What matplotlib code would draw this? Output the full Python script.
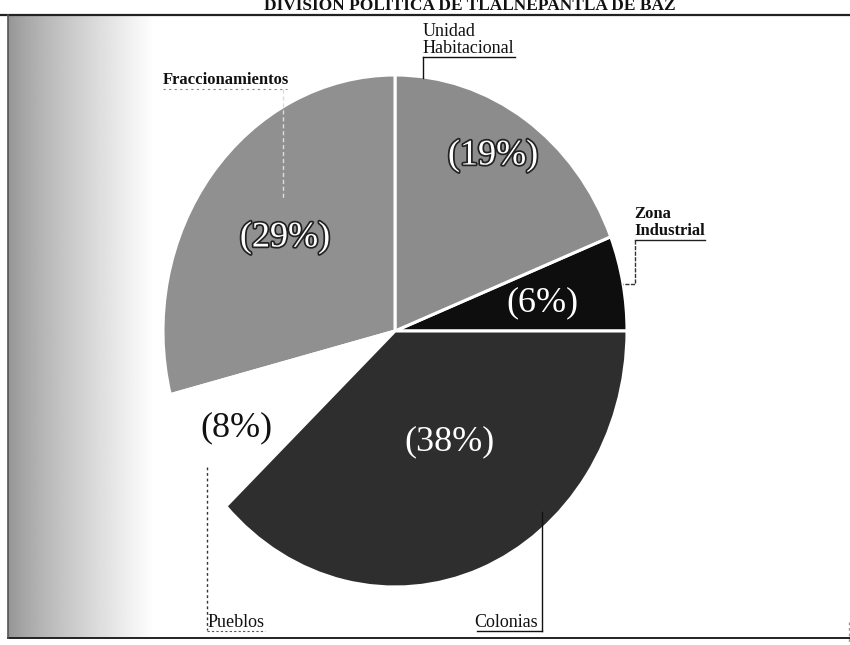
import matplotlib.pyplot as plt
import matplotlib.patheffects as pe
import numpy as np

# slices counterclockwise from 3 o'clock
categories = ["Zona\nIndustrial", "Unidad\nHabitacional", "Fraccionamientos", "Pueblos", "Colonias"]
values = [6, 19, 29, 8, 38]
colors = ["#0e0e0e", "#8c8c8c", "#909090", "#ffffff", "#2e2e2e"]
title = "DIVISIÓN POLÍTICA DE TLALNEPANTLA DE BAZ"

W, H = 850, 645
serif = "Liberation Serif"

fig = plt.figure(figsize=(W / 100, H / 100), dpi=100)

# background layer in pixel coordinates
bg = fig.add_axes([0, 0, 1, 1], zorder=0)
bg.set_xlim(0, W)
bg.set_ylim(H, 0)
bg.axis("off")

# scanned grey band on the left
grad = np.linspace(0.0, 1.0, 200).reshape(1, -1) ** 0.8 * 0.42 + 0.58
bg.imshow(grad, extent=[8, 155, 638, 15], cmap="gray", vmin=0, vmax=1, aspect="auto")

# frame lines
bg.plot([0, W], [15, 15], color="#222222", lw=1.6)
bg.plot([8, W], [638, 638], color="#222222", lw=1.4)
bg.plot([8, 8], [15, 638], color="#555555", lw=1.2)
bg.plot([849, 849], [622, 642], color="#999999", lw=1, ls=(0, (2, 2)))

bg.text(470, 10.5, title, ha="center", va="baseline", fontsize=12.5,
        fontweight="bold", family=serif, color="#111111")

# pie drawn in its own axes (slightly taller than wide, as in the scan)
cx, cy, rx, ry = 395, 331, 232, 256
pax = fig.add_axes([(cx - rx) / W, (H - cy - ry) / H, 2 * rx / W, 2 * ry / H], zorder=1)
pax.pie(values, colors=colors, startangle=0, counterclock=True,
        wedgeprops=dict(edgecolor="white", linewidth=2.2))
pax.set_xlim(-1, 1)
pax.set_ylim(-1, 1)
pax.set_aspect("auto")
pax.axis("off")

# overlay for labels and leader lines
ov = fig.add_axes([0, 0, 1, 1], zorder=2)
ov.set_xlim(0, W)
ov.set_ylim(H, 0)
ov.axis("off")
ov.patch.set_alpha(0)

lab = dict(family=serif, fontsize=13, color="#111111")

# Unidad Habitacional
ov.text(423, 53, categories[1], ha="left", va="baseline", linespacing=1.0, **lab)
ov.plot([423, 515], [57, 57], color="#111111", lw=1)
ov.plot([423, 423], [57, 78], color="#111111", lw=1)

# Fraccionamientos
ov.text(163, 84, categories[2], ha="left", va="baseline", fontweight="bold",
        family=serif, fontsize=12, color="#111111")
ov.plot([163, 287], [89, 89], color="#888888", lw=0.8, ls=(0, (2, 3)))
ov.plot([283, 283], [89, 200], color="#dddddd", lw=1, ls=(0, (3, 2)))

# Zona Industrial
ov.text(634, 235, categories[0], ha="left", va="baseline", fontweight="bold",
        family=serif, fontsize=12, color="#111111", linespacing=1.05)
ov.plot([635, 705], [240, 240], color="#222222", lw=1)
ov.plot([635, 635, 623], [240, 284, 284], color="#333333", lw=1, ls=(0, (3, 1)))

# Pueblos
ov.text(208, 627, categories[3], ha="left", va="baseline", **lab)
ov.plot([207, 207], [467, 630], color="#333333", lw=1, ls=(0, (2, 2)))
ov.plot([207, 265], [631, 631], color="#555555", lw=0.8, ls=(0, (2, 2)))

# Colonias
ov.text(538, 627, categories[4], ha="right", va="baseline", **lab)
ov.plot([542, 542], [512, 631], color="#111111", lw=1)
ov.plot([477, 542], [631, 631], color="#111111", lw=1)

# percentage labels
pct = {v: f"({v}%)" for v in values}
big = dict(family=serif, fontsize=26, ha="center", va="center")
outline = [pe.withStroke(linewidth=2.5, foreground="#222222")]
ov.text(493, 156, pct[19], color="white", path_effects=outline, **big)
ov.text(285, 238, pct[29], color="white", path_effects=outline, **big)
ov.text(542, 303, pct[6], color="white", **big)
ov.text(450, 442, pct[38], color="white", **big)
ov.text(236, 428, pct[8], color="#111111", **big)

fig.savefig("out.png", dpi=100)
